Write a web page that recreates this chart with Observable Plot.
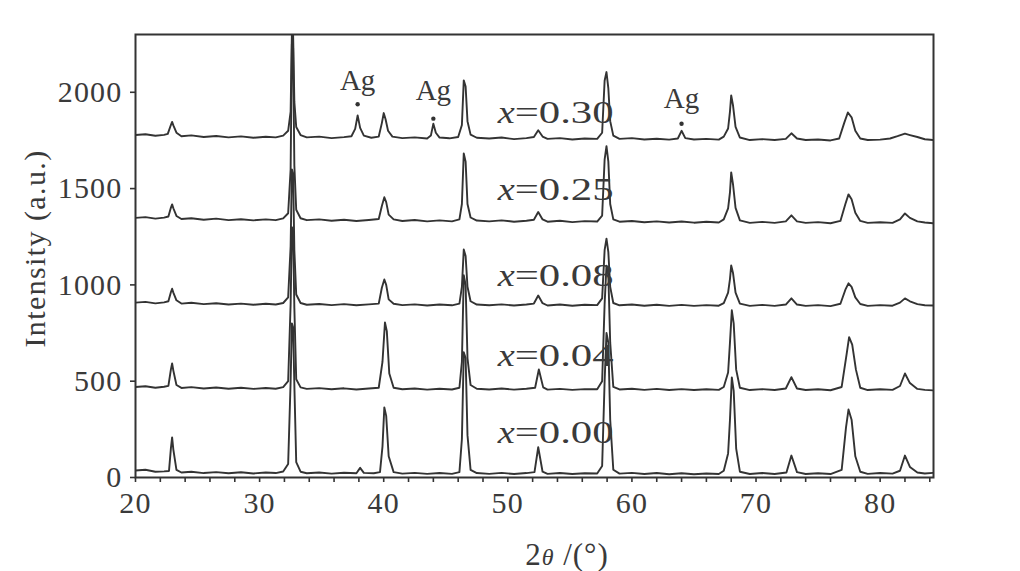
<!DOCTYPE html>
<html>
<head>
<meta charset="utf-8">
<script src="https://cdn.jsdelivr.net/npm/d3@7"></script>
<script src="https://cdn.jsdelivr.net/npm/@observablehq/plot@0.6"></script>
<style>
  html, body { margin: 0; padding: 0; background: #fff; }
  #chart { width: 1020px; height: 571px; }
  g[aria-label="y-axis tick label"] text, g[aria-label="x-axis tick label"] text { letter-spacing: 1.2px; }
</style>
</head>
<body>
<div id="chart"></div>
<script>
// ---- Data: [2θ (°), intensity (a.u.)] ----
const sampleNames = ["0.30", "0.25", "0.08", "0.04", "0.00"];

const trace030 = [[20,1778],[20.8,1782],[21.6,1774],[22.3,1779],[22.6,1784],[22.85,1830],[22.95,1846],[23.05,1828],[23.3,1790],[23.7,1772],[24.5,1776],[25.5,1768],[26.5,1773],[27.5,1766],[28.5,1771],[29.5,1764],[30.5,1769],[31.3,1766],[31.9,1775],[32.3,1800],[32.5,1900],[32.6,2300],[32.7,2300],[32.8,1950],[32.95,1820],[33.3,1778],[33.8,1766],[34.8,1770],[35.8,1762],[36.8,1767],[37.4,1772],[37.7,1810],[37.9,1880],[38.1,1815],[38.4,1775],[39.0,1764],[39.6,1770],[39.85,1840],[40.0,1892],[40.15,1860],[40.35,1800],[40.7,1770],[41.5,1762],[42.5,1766],[43.5,1760],[43.8,1775],[44.0,1837],[44.2,1790],[44.5,1765],[45.3,1761],[46.0,1768],[46.3,1830],[46.45,2062],[46.6,2030],[46.75,1850],[47.0,1780],[47.5,1764],[48.5,1760],[49.5,1765],[50.5,1757],[51.5,1762],[52.1,1768],[52.45,1803],[52.8,1770],[53.2,1758],[54.2,1762],[55.2,1755],[56.2,1760],[57.2,1758],[57.6,1790],[57.8,2060],[57.95,2105],[58.1,2020],[58.25,1850],[58.5,1775],[59.0,1758],[60,1762],[61,1755],[62,1759],[63,1754],[63.7,1760],[64.0,1800],[64.3,1762],[65,1755],[66,1758],[67,1754],[67.4,1770],[67.75,1812],[67.9,1900],[68.0,1984],[68.15,1930],[68.35,1820],[68.7,1765],[69.5,1752],[70.5,1757],[71.5,1752],[72.4,1758],[72.85,1787],[73.3,1760],[74,1752],[75,1755],[76,1750],[76.7,1760],[77.1,1840],[77.4,1895],[77.7,1870],[78.0,1800],[78.4,1760],[79,1752],[80,1754],[80.8,1760],[81.4,1772],[82.0,1785],[82.4,1778],[83,1768],[83.6,1756],[84.3,1752]];

const trace025 = [[20,1348],[20.8,1352],[21.6,1344],[22.3,1349],[22.65,1355],[22.85,1400],[22.95,1418],[23.05,1398],[23.3,1358],[23.7,1342],[24.5,1346],[25.5,1338],[26.5,1344],[27.5,1336],[28.5,1341],[29.5,1335],[30.5,1340],[31.3,1336],[31.9,1345],[32.3,1372],[32.5,1600],[32.6,2250],[32.7,2230],[32.8,1620],[32.95,1390],[33.3,1346],[33.8,1336],[34.8,1340],[35.8,1333],[36.8,1338],[37.8,1332],[38.8,1337],[39.6,1342],[39.85,1410],[40.05,1455],[40.2,1430],[40.4,1365],[40.8,1340],[41.5,1332],[42.5,1337],[43.5,1330],[44.5,1335],[45.5,1330],[46.1,1340],[46.3,1420],[46.45,1683],[46.6,1640],[46.75,1420],[47.0,1350],[47.5,1334],[48.5,1330],[49.5,1335],[50.5,1328],[51.5,1333],[52.1,1338],[52.45,1378],[52.8,1340],[53.2,1328],[54.2,1333],[55.2,1326],[56.2,1331],[57.2,1329],[57.6,1360],[57.8,1650],[57.95,1720],[58.1,1640],[58.25,1420],[58.5,1340],[59.0,1328],[60,1332],[61,1325],[62,1330],[63,1324],[64,1329],[65,1323],[66,1328],[67,1324],[67.4,1340],[67.75,1397],[67.9,1480],[68.0,1584],[68.15,1520],[68.35,1400],[68.7,1335],[69.5,1322],[70.5,1327],[71.5,1322],[72.4,1330],[72.85,1361],[73.3,1330],[74,1322],[75,1326],[76,1320],[76.8,1332],[77.2,1420],[77.45,1470],[77.7,1445],[78.0,1375],[78.4,1332],[79,1322],[80,1325],[81,1322],[81.6,1340],[82.0,1371],[82.4,1348],[83,1330],[83.6,1324],[84.3,1320]];

const trace008 = [[20,908],[20.8,912],[21.6,904],[22.3,909],[22.65,915],[22.85,962],[22.95,980],[23.05,960],[23.3,920],[23.7,903],[24.5,907],[25.5,900],[26.5,905],[27.5,898],[28.5,903],[29.5,897],[30.5,902],[31.3,898],[31.9,906],[32.3,935],[32.5,1200],[32.6,1600],[32.7,1580],[32.8,1180],[32.95,950],[33.3,906],[33.8,897],[34.8,901],[35.8,895],[36.8,900],[37.8,894],[38.8,899],[39.6,903],[39.85,985],[40.05,1028],[40.2,1000],[40.4,925],[40.8,902],[41.5,895],[42.5,899],[43.5,893],[44.5,898],[45.5,894],[46.1,903],[46.3,990],[46.45,1184],[46.6,1150],[46.75,990],[47.0,915],[47.5,898],[48.5,894],[49.5,899],[50.5,893],[51.5,898],[52.1,903],[52.45,945],[52.8,905],[53.2,893],[54.2,898],[55.2,892],[56.2,897],[57.2,895],[57.6,930],[57.8,1180],[57.95,1240],[58.1,1170],[58.25,990],[58.5,906],[59.0,894],[60,898],[61,892],[62,897],[63,891],[64,896],[65,891],[66,895],[67,892],[67.4,905],[67.75,960],[67.9,1030],[68.0,1101],[68.15,1060],[68.35,960],[68.7,903],[69.5,891],[70.5,896],[71.5,891],[72.4,898],[72.85,930],[73.3,898],[74,891],[75,895],[76,890],[76.8,902],[77.2,975],[77.45,1008],[77.7,990],[78.0,935],[78.4,901],[79,891],[80,895],[81,892],[81.6,908],[82.0,930],[82.4,915],[83,900],[83.6,894],[84.3,893]];

const trace004 = [[20,470],[20.8,474],[21.6,466],[22.3,471],[22.65,476],[22.85,560],[22.95,592],[23.05,555],[23.3,480],[23.7,465],[24.5,469],[25.5,462],[26.5,467],[27.5,461],[28.5,466],[29.5,460],[30.5,465],[31.3,461],[31.9,469],[32.3,500],[32.5,900],[32.6,1300],[32.7,1280],[32.8,880],[32.95,510],[33.3,468],[33.8,460],[34.8,464],[35.8,458],[36.8,463],[37.8,457],[38.8,462],[39.6,466],[39.9,600],[40.1,805],[40.25,760],[40.45,540],[40.8,466],[41.5,458],[42.5,462],[43.5,456],[44.5,461],[45.5,457],[46.1,466],[46.3,600],[46.45,1050],[46.6,1000],[46.75,620],[47.0,480],[47.5,461],[48.5,457],[49.5,462],[50.5,456],[51.5,461],[52.2,466],[52.5,561],[52.85,468],[53.2,456],[54.2,460],[55.2,455],[56.2,459],[57.2,458],[57.6,500],[57.8,900],[57.95,1100],[58.1,1050],[58.25,700],[58.5,470],[59.0,457],[60,461],[61,455],[62,460],[63,454],[64,459],[65,454],[66,458],[67,455],[67.4,470],[67.75,545],[67.9,700],[68.05,868],[68.2,800],[68.4,560],[68.7,466],[69.5,454],[70.5,459],[71.5,454],[72.4,462],[72.85,521],[73.3,462],[74,454],[75,458],[76,453],[76.9,470],[77.3,640],[77.5,729],[77.75,690],[78.05,560],[78.4,466],[79,454],[80,458],[81,455],[81.6,475],[82.0,540],[82.4,490],[83,460],[83.6,455],[84.3,452]];

const trace000 = [[20,36],[20.8,40],[21.6,30],[22.3,32],[22.7,34],[22.85,150],[22.95,208],[23.05,145],[23.3,40],[23.7,26],[24.5,30],[25.5,23],[26.5,28],[27.5,22],[28.5,27],[29.5,21],[30.5,26],[31.3,23],[31.9,31],[32.3,70],[32.5,500],[32.6,800],[32.7,780],[32.8,480],[32.95,80],[33.3,30],[33.8,22],[34.8,26],[35.8,20],[36.8,25],[37.8,22],[38.1,50],[38.4,24],[39.2,22],[39.7,28],[39.9,160],[40.05,364],[40.2,320],[40.4,110],[40.8,28],[41.5,20],[42.5,24],[43.5,19],[44.5,23],[45.5,19],[46.1,28],[46.3,200],[46.45,650],[46.6,620],[46.75,220],[47.0,40],[47.5,23],[48.5,19],[49.5,24],[50.5,18],[51.5,23],[52.15,28],[52.45,157],[52.8,30],[53.2,19],[54.2,23],[55.2,18],[56.2,22],[57.2,21],[57.6,60],[57.8,500],[57.95,750],[58.1,700],[58.25,300],[58.5,40],[59.0,20],[60,24],[61,18],[62,23],[63,17],[64,22],[65,17],[66,21],[67,18],[67.4,35],[67.75,125],[67.9,300],[68.05,520],[68.2,450],[68.4,150],[68.7,30],[69.5,18],[70.5,23],[71.5,18],[72.45,26],[72.85,114],[73.3,28],[74,18],[75,22],[76,18],[76.9,40],[77.25,260],[77.45,353],[77.7,300],[78.0,110],[78.4,30],[79,19],[80,23],[81,20],[81.6,35],[82.0,114],[82.4,55],[83,26],[83.6,21],[84.3,24]];

const traces = [trace030, trace025, trace008, trace004, trace000];

// Labels of the samples: anchor 2θ, mid-height intensity
const sampleLabelT = [50.55, 50.55, 50.55, 50.55, 50.55];
const sampleLabelI = [1893, 1496, 1049, 634, 234];

// Ag reflections (in x=0.30): peak marker and label
const agT = [37.9, 44.0, 64.0];
const agDotI = [1938, 1863, 1837];
const agLabelI = [2062, 2010, 1969];

const xTicks = d3.range(20, 85, 2);
const yTicks = [0, 500, 1000, 1500, 2000];

// ---- Build tables ----
const lineData = traces.flatMap((tr, k) => tr.map(([t, i]) => ({t, i, s: sampleNames[k]})));
const sampleLabels = sampleNames.map((n, k) => ({t: sampleLabelT[k], i: sampleLabelI[k], txt: "=" + n}));
const agDots = agT.map((t, k) => ({t, i: agDotI[k]}));
const agLabels = agT.map((t, k) => ({t, i: agLabelI[k]}));

const ink = "#333";
const serif = "'Liberation Serif', 'Times New Roman', serif";

const plot = Plot.plot({
  width: 1020,
  height: 571,
  marginLeft: 135,
  marginRight: 87,
  marginTop: 34,
  marginBottom: 94,
  style: {fontFamily: serif, fontSize: "30px", color: ink, background: "#fff", overflow: "visible"},
  x: {domain: [20, 84.3]},
  y: {domain: [0, 2300]},
  marks: [
    Plot.line(lineData, {x: "t", y: "i", z: "s", stroke: ink, strokeWidth: 1.9, clip: true, curve: "linear"}),
    Plot.frame({stroke: ink, strokeWidth: 2}),
    Plot.axisX({ticks: xTicks, tickFormat: d => d % 10 === 0 ? String(d) : "", tickSize: 5, tickPadding: 9, label: null, stroke: ink, strokeWidth: 1.6, fill: "#3a3a3a", fontSize: 30}),
    Plot.axisY({ticks: yTicks, tickFormat: d => String(d), tickSize: 5, tickPadding: 8, label: null, stroke: ink, strokeWidth: 1.6, fill: "#3a3a3a", fontSize: 30}),
    Plot.text(sampleLabels, {x: "t", y: "i", text: () => "x", textAnchor: "end", lineAnchor: "middle", fontStyle: "italic", fontSize: 32, fill: "#3a3a3a", className: "sample-x"}),
    Plot.text(sampleLabels, {x: "t", y: "i", text: "txt", textAnchor: "start", lineAnchor: "middle", fontSize: 32, fill: "#3a3a3a", className: "sample-val"}),
    Plot.dot(agDots, {x: "t", y: "i", r: 2.2, fill: ink, stroke: null}),
    Plot.text(agLabels, {x: "t", y: "i", text: () => "Ag", lineAnchor: "middle", fontSize: 29, fill: "#3a3a3a"})
  ]
});

// The reference's lettering is slightly widened: stretch the sample labels
const svg = d3.select(plot);
svg.selectAll("g.sample-x text").attr("textLength", 17).attr("lengthAdjust", "spacingAndGlyphs");
svg.selectAll("g.sample-val text").attr("textLength", 99).attr("lengthAdjust", "spacingAndGlyphs");

// Axis titles (real text, positioned from the plot's scales)
const xs = plot.scale("x"), ys = plot.scale("y");
const xMid = (xs.range[0] + xs.range[1]) / 2;
const yMid = (ys.range[0] + ys.range[1]) / 2;

const xt = svg.append("text")
  .attr("x", xMid + 33)
  .attr("y", ys.range[0] + 88)
  .attr("text-anchor", "middle")
  .attr("fill", "#3a3a3a")
  .style("font-family", serif)
  .style("font-size", "31px")
  .style("letter-spacing", "1px");
xt.append("tspan").text("2");
xt.append("tspan").style("font-style", "italic").style("font-size", "24px").text("θ");
xt.append("tspan").text(" /(°)");

svg.append("text")
  .attr("transform", `translate(${xs.range[0] - 101},${yMid - 7}) rotate(-90)`)
  .attr("text-anchor", "middle")
  .attr("dy", "0.35em")
  .attr("fill", "#3a3a3a")
  .style("font-family", serif)
  .style("font-size", "30px")
  .style("letter-spacing", "1.4px")
  .text("Intensity (a.u.)");

document.getElementById("chart").appendChild(plot);
</script>
</body>
</html>
